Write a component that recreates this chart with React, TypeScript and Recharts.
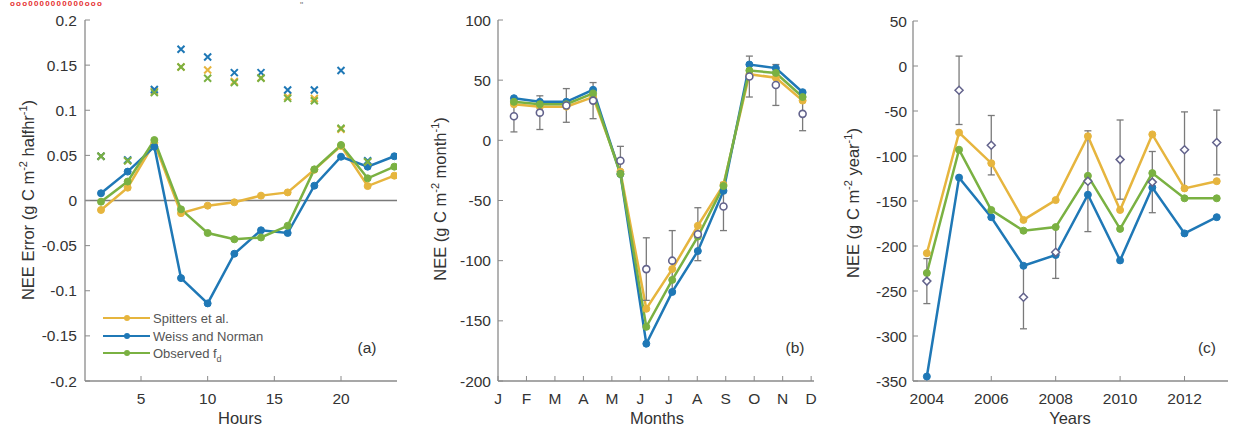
import { LineChart, Line, XAxis, YAxis, ReferenceLine, ErrorBar } from 'recharts'

// (a) diurnal NEE error, half-hourly model minus observed
const HOURS = [2, 4, 6, 8, 10, 12, 14, 16, 18, 20, 22, 24]
const SPITTERS_ERR = [-0.0105, 0.0142, 0.064, -0.014, -0.0057, -0.002, 0.0054, 0.009, 0.034, 0.0605, 0.016, 0.0275]
const WEISS_ERR = [0.008, 0.032, 0.0596, -0.086, -0.114, -0.059, -0.033, -0.036, 0.0164, 0.0485, 0.0375, 0.049]
const OBSFD_ERR = [-0.0013, 0.021, 0.067, -0.0098, -0.036, -0.043, -0.041, -0.028, 0.0345, 0.0615, 0.0246, 0.0375]
const SPITTERS_RMSE = [0.049, 0.044, 0.121, 0.148, 0.1446, 0.132, 0.136, 0.115, 0.113, 0.079, 0.043, null]
const WEISS_RMSE = [0.049, 0.045, 0.123, 0.1675, 0.159, 0.1417, 0.1417, 0.1224, 0.1224, 0.144, 0.044, null]
const OBSFD_RMSE = [0.049, 0.044, 0.1195, 0.148, 0.1354, 0.1306, 0.1354, 0.1132, 0.1106, 0.08, 0.043, null]
const ERR_TICKS = [-0.2, -0.15, -0.1, -0.05, 0, 0.05, 0.1, 0.15, 0.2]

// (b) monthly NEE
const MONTHS = ['J', 'F', 'M', 'A', 'M', 'J', 'J', 'A', 'S', 'O', 'N', 'D']
const MONTH_X = [0.56, 1.47, 2.4, 3.34, 4.3, 5.21, 6.12, 7.02, 7.92, 8.83, 9.76, 10.7]
const SPITTERS_M = [30, 28, 28, 36, -26, -140, -107, -71, -37, 55, 52, 33]
const WEISS_M = [35, 32, 32, 42, -28, -169, -126, -92, -42, 63, 60, 40]
const OBSFD_M = [32, 30, 30, 39, -28, -155, -116, -80, -38, 58, 56, 36]
const OBSERVED_M = [20, 23, 29, 33, -17, -107, -100, -78, -55, 53, 46, 22]
const OBSERVED_M_SD = [13, 14, 14, 15, 12, 26, 25, 22, 20, 17, 17, 14]
const MONTH_Y_TICKS = [-200, -150, -100, -50, 0, 50, 100]

// (c) annual NEE
const YEARS = [2004, 2005, 2006, 2007, 2008, 2009, 2010, 2011, 2012, 2013]
const SPITTERS_Y = [-208, -74, -108, -171, -149, -78, -160, -76, -136, -128]
const WEISS_Y = [-345, -124, -168, -222, -210, -143, -216, -135, -186, -168]
const OBSFD_Y = [-230, -93, -160, -183, -179, -122, -181, -119, -147, -147]
const OBSERVED_Y = [-239, -27, -88, -257, -207, -128, -104, -129, -93, -85]
const OBSERVED_Y_SD = [25, 38, 33, 35, 29, 56, 44, 34, 42, 36]
const YEAR_TICKS = [2004, 2006, 2008, 2010, 2012]
const YEAR_Y_TICKS = [-350, -300, -250, -200, -150, -100, -50, 0, 50]

const C_SPITTERS = '#e6b53e'
const C_WEISS = '#1f78b6'
const C_OBSFD = '#7ab142'
const C_OBS = '#63638c'
const C_BAR = '#7a7a7a'
const AXIS = '#8a8a8a'
const TEXT = '#333'
const H = 429

const hourData = HOURS.map((x, i) => ({
  x,
  spitters: SPITTERS_ERR[i],
  weiss: WEISS_ERR[i],
  obsfd: OBSFD_ERR[i],
  spittersRmse: SPITTERS_RMSE[i],
  weissRmse: WEISS_RMSE[i],
  obsfdRmse: OBSFD_RMSE[i],
}))

const monthData = MONTH_X.map((x, i) => ({
  x,
  spitters: SPITTERS_M[i],
  weiss: WEISS_M[i],
  obsfd: OBSFD_M[i],
  obs: OBSERVED_M[i],
  sd: OBSERVED_M_SD[i],
}))

const yearData = YEARS.map((x, i) => ({
  x,
  spitters: SPITTERS_Y[i],
  weiss: WEISS_Y[i],
  obsfd: OBSFD_Y[i],
  obs: OBSERVED_Y[i],
  sd: OBSERVED_Y_SD[i],
}))

const tick = { fill: TEXT, fontSize: 15.5 }
const axisLine = { stroke: AXIS, strokeWidth: 1.3 }
const tickLine = { stroke: AXIS, strokeWidth: 1 }

const cross = (color: string) => (p: any) => {
  const { cx, cy, index } = p
  if (cx == null || cy == null || p.value == null) return <g key={`c${index}`} />
  const s = 3.5
  return (
    <path
      key={`c${index}`}
      d={`M${cx - s},${cy - s}L${cx + s},${cy + s}M${cx - s},${cy + s}L${cx + s},${cy - s}`}
      stroke={color}
      strokeWidth={2}
      fill="none"
    />
  )
}

const diamond = (p: any) => {
  const { cx, cy, index } = p
  if (cx == null || cy == null) return <g key={`d${index}`} />
  const s = 4
  return (
    <path
      key={`d${index}`}
      d={`M${cx},${cy - s}L${cx + s},${cy}L${cx},${cy + s}L${cx - s},${cy}Z`}
      stroke={C_OBS}
      strokeWidth={1.5}
      fill="#fff"
    />
  )
}

function modelLines() {
  return [
    [C_SPITTERS, 'spitters'],
    [C_WEISS, 'weiss'],
    [C_OBSFD, 'obsfd'],
  ].map(([c, k]) => (
    <Line
      key={k}
      type="linear"
      dataKey={k}
      stroke={c}
      strokeWidth={2.5}
      dot={{ r: 3.5, fill: c, stroke: c, strokeWidth: 1 }}
      activeDot={false}
      isAnimationActive={false}
    />
  ))
}

function Sup({ t }: { t: string }) {
  return (
    <>
      <tspan dy={-6} fontSize={11}>{t}</tspan>
      <tspan dy={6}> </tspan>
    </>
  )
}

function Overlay() {
  return (
    <svg width={1234} height={H} style={{ position: 'absolute', left: 0, top: 0, pointerEvents: 'none' }}>
      <g fill={TEXT} fontSize={16.5}>
        <text x={30} y={200} textAnchor="middle" dominantBaseline="middle" transform="rotate(-90 30 200)">
          NEE Error (g C m<Sup t="-2" />halfhr<tspan dy={-6} fontSize={11}>-1</tspan><tspan dy={6}>)</tspan>
        </text>
        <text x={442} y={199} textAnchor="middle" dominantBaseline="middle" transform="rotate(-90 442 199)">
          NEE (g C m<Sup t="-2" />month<tspan dy={-6} fontSize={11}>-1</tspan><tspan dy={6}>)</tspan>
        </text>
        <text x={855} y={203} textAnchor="middle" dominantBaseline="middle" transform="rotate(-90 855 203)">
          NEE (g C m<Sup t="-2" />year<tspan dy={-6} fontSize={11}>-1</tspan><tspan dy={6}>)</tspan>
        </text>
        <text x={240} y={424} textAnchor="middle">Hours</text>
        <text x={657} y={424} textAnchor="middle">Months</text>
        <text x={1070} y={424} textAnchor="middle">Years</text>
        <text x={367} y={353} textAnchor="middle" fontSize={15.5}>(a)</text>
        <text x={795} y={353} textAnchor="middle" fontSize={15.5}>(b)</text>
        <text x={1207} y={353} textAnchor="middle" fontSize={15.5}>(c)</text>
      </g>
      <g fontSize={13} fill="#555">
        {[
          [C_SPITTERS, 'Spitters et al.', 318],
          [C_WEISS, 'Weiss and Norman', 336],
          [C_OBSFD, 'Observed f', 353],
        ].map(([c, label, y]) => (
          <g key={label as string}>
            <line x1={103} x2={150} y1={y as number} y2={y as number} stroke={c as string} strokeWidth={2.2} />
            <circle cx={127} cy={y as number} r={3} fill={c as string} />
            <text x={153} y={(y as number) + 4.5}>
              {label}
              {label === 'Observed f' && <tspan dy={4} fontSize={9}>d</tspan>}
            </text>
          </g>
        ))}
      </g>
      <text x={300} y={8} fontSize={9} fill="#777">"</text>
    </svg>
  )
}

export default function App() {
  return (
    <div
      style={{
        position: 'absolute',
        left: 0,
        top: 0,
        width: 1234,
        height: H,
        background: '#fff',
        overflow: 'hidden',
        fontFamily: '"Liberation Sans", Arial, sans-serif',
      }}
    >
      <div
        style={{
          position: 'absolute',
          left: 10,
          top: 0,
          color: '#e53030',
          fontSize: 8,
          lineHeight: '8px',
          fontWeight: 'bold',
          letterSpacing: 1.2,
        }}
      >
        ooo0000000000ooo
      </div>

      <div style={{ position: 'absolute', left: 0, top: 0 }}>
        <LineChart width={410} height={H} data={hourData} margin={{ top: 20, right: 13, bottom: 0, left: 0 }}>
          <XAxis
            dataKey="x"
            type="number"
            domain={[0.8, 24.2]}
            ticks={[5, 10, 15, 20]}
            allowDataOverflow
            height={48}
            tickSize={-5}
            tickMargin={17}
            tick={tick}
            axisLine={axisLine}
            tickLine={tickLine}
          />
          <YAxis
            type="number"
            domain={[-0.2, 0.2]}
            ticks={ERR_TICKS}
            allowDataOverflow
            width={85}
            tickSize={-5}
            tickMargin={13}
            tick={tick}
            axisLine={axisLine}
            tickLine={tickLine}
          />
          <ReferenceLine y={0} stroke="#7a7a7a" strokeWidth={1.6} />
          {modelLines()}
          {[
            [C_SPITTERS, 'spittersRmse'],
            [C_WEISS, 'weissRmse'],
            [C_OBSFD, 'obsfdRmse'],
          ].map(([c, k]) => (
            <Line
              key={k}
              dataKey={k}
              stroke="none"
              dot={cross(c)}
              activeDot={false}
              legendType="none"
              isAnimationActive={false}
            />
          ))}
        </LineChart>
      </div>

      <div style={{ position: 'absolute', left: 410, top: 0 }}>
        <LineChart width={410} height={H} data={monthData} margin={{ top: 20, right: 6, bottom: 0, left: 0 }}>
          <XAxis
            dataKey="x"
            type="number"
            domain={[0, 11.1]}
            ticks={MONTHS.map((_, i) => i)}
            tickFormatter={(v: number) => MONTHS[v]}
            allowDataOverflow
            height={48}
            tickSize={-5}
            tickMargin={17}
            tick={tick}
            axisLine={axisLine}
            tickLine={tickLine}
          />
          <YAxis
            type="number"
            domain={[-200, 100]}
            ticks={MONTH_Y_TICKS}
            allowDataOverflow
            width={88}
            tickSize={-5}
            tickMargin={12}
            tick={tick}
            axisLine={axisLine}
            tickLine={tickLine}
          />
          {modelLines()}
          <Line
            dataKey="obs"
            stroke="none"
            dot={{ r: 3.5, fill: '#fff', stroke: C_OBS, strokeWidth: 1.6 }}
            activeDot={false}
            isAnimationActive={false}
          >
            <ErrorBar dataKey="sd" stroke={C_BAR} strokeWidth={1.3} width={3.5} isAnimationActive={false} />
          </Line>
        </LineChart>
      </div>

      <div style={{ position: 'absolute', left: 820, top: 0 }}>
        <LineChart width={414} height={H} data={yearData} margin={{ top: 21, right: 6, bottom: 0, left: 0 }}>
          <XAxis
            dataKey="x"
            type="number"
            domain={[2003.57, 2013.35]}
            ticks={YEAR_TICKS}
            allowDataOverflow
            height={48}
            tickSize={-5}
            tickMargin={17}
            tick={tick}
            axisLine={axisLine}
            tickLine={tickLine}
          />
          <YAxis
            type="number"
            domain={[-350, 50]}
            ticks={YEAR_Y_TICKS}
            allowDataOverflow
            width={93}
            tickSize={-5}
            tickMargin={11}
            tick={tick}
            axisLine={axisLine}
            tickLine={tickLine}
          />
          {modelLines()}
          <Line dataKey="obs" stroke="none" dot={diamond} activeDot={false} isAnimationActive={false}>
            <ErrorBar dataKey="sd" stroke={C_BAR} strokeWidth={1.3} width={3.5} isAnimationActive={false} />
          </Line>
        </LineChart>
      </div>

      <Overlay />
    </div>
  )
}
